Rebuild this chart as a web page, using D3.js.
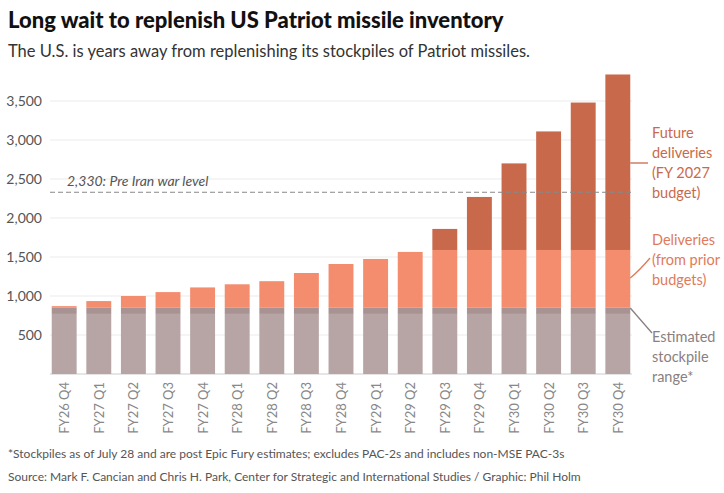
<!DOCTYPE html>
<html><head><meta charset="utf-8">
<script src="https://cdn.jsdelivr.net/npm/d3@7"></script>
<style>
body{margin:0;background:#fff;font-family:Lato,"Open Sans",sans-serif}
</style></head><body>
<svg id="c" width="724" height="493"></svg>
<script>
const quarters = ["FY26 Q4","FY27 Q1","FY27 Q2","FY27 Q3","FY27 Q4","FY28 Q1","FY28 Q2","FY28 Q3","FY28 Q4","FY29 Q1","FY29 Q2","FY29 Q3","FY29 Q4","FY30 Q1","FY30 Q2","FY30 Q3","FY30 Q4"];
const stockLow = 770, stockHigh = 850;
const priorTop = [870,935,1000,1050,1110,1150,1190,1295,1410,1475,1565,1590,1590,1590,1590,1590,1590];
const totalTop = [870,935,1000,1050,1110,1150,1190,1295,1410,1475,1565,1860,2270,2700,3110,3480,3840];
const yTicks = [500,1000,1500,2000,2500,3000,3500];
const preWar = 2330;

const svg = d3.select("#c");
const x = d3.scaleBand().domain(quarters).range([50,632]).paddingInner(0.28).paddingOuter(0.05);
const y = d3.scaleLinear().domain([0,3500]).range([374,101]);

svg.append("text").attr("x",8).attr("y",28).attr("font-size",22).attr("font-weight",900).attr("fill","#111")
  .text("Long wait to replenish US Patriot missile inventory");
svg.append("text").attr("x",8).attr("y",57).attr("font-size",16.5).attr("fill","#333")
  .text("The U.S. is years away from replenishing its stockpiles of Patriot missiles.");

const g = svg.append("g");
g.selectAll(".grid").data(yTicks).join("line")
  .attr("x1",50).attr("x2",632).attr("y1",d=>y(d)).attr("y2",d=>y(d)).attr("stroke","#ebebeb");
g.selectAll(".yl").data(yTicks).join("text")
  .attr("x",42).attr("y",d=>y(d)+5).attr("text-anchor","end").attr("font-size",14).attr("fill","#555")
  .text(d3.format(",")) ;
g.append("line").attr("x1",50).attr("x2",632).attr("y1",y(0)).attr("y2",y(0)).attr("stroke","#ccc");

const bars = g.selectAll(".b").data(quarters).join("g");
bars.append("rect").attr("x",d=>x(d)).attr("width",x.bandwidth())
  .attr("y",(d,i)=>y(totalTop[i])).attr("height",(d,i)=>y(priorTop[i])-y(totalTop[i])).attr("fill","#c9694c");
bars.append("rect").attr("x",d=>x(d)).attr("width",x.bandwidth())
  .attr("y",(d,i)=>y(priorTop[i])).attr("height",(d,i)=>Math.max(0,y(stockHigh)-y(priorTop[i]))).attr("fill","#f48c6e");
bars.append("rect").attr("x",d=>x(d)).attr("width",x.bandwidth())
  .attr("y",y(stockHigh)).attr("height",y(stockLow)-y(stockHigh)).attr("fill","#a89292");
bars.append("rect").attr("x",d=>x(d)).attr("width",x.bandwidth())
  .attr("y",y(stockLow)).attr("height",y(0)-y(stockLow)).attr("fill","#b7a5a5");

g.append("line").attr("x1",50).attr("x2",632).attr("y1",y(preWar)).attr("y2",y(preWar))
  .attr("stroke","#888").attr("stroke-dasharray","5,3");
g.append("text").attr("x",67).attr("y",y(preWar)-6).attr("font-size",14).attr("font-style","italic").attr("fill","#555")
  .text(`${d3.format(",")(preWar)}: Pre Iran war level`);

g.selectAll(".xl").data(quarters).join("text")
  .attr("transform",d=>`translate(${x(d)+x.bandwidth()/2+5},382) rotate(-90)`)
  .attr("text-anchor","end").attr("font-size",13).attr("fill","#888").text(d=>d);

const lastX = x(quarters[quarters.length-1])+x.bandwidth();
const labels = [
  {lines:["Future","deliveries","(FY 2027","budget)"], y0:138, col:"#c9694c", path:`M${lastX},163 L648,163`},
  {lines:["Deliveries","(from prior","budgets)"], y0:245, col:"#e07a5a", path:`M${lastX},278 Q640,270 650,258`},
  {lines:["Estimated","stockpile","range*"], y0:342, col:"#8a8080", path:`M${lastX},308 Q645,325 652,333`}
];
labels.forEach(l=>{
  svg.append("path").attr("d",l.path).attr("fill","none").attr("stroke",l.col).attr("stroke-width",1.3);
  l.lines.forEach((t,i)=>svg.append("text").attr("x",652).attr("y",l.y0+i*20).attr("font-size",14.5).attr("fill",l.col).text(t));
});

svg.append("text").attr("x",8).attr("y",458).attr("font-size",12).attr("fill","#555")
  .text("*Stockpiles as of July 28 and are post Epic Fury estimates; excludes PAC-2s and includes non-MSE PAC-3s");
svg.append("text").attr("x",8).attr("y",481).attr("font-size",12).attr("fill","#555")
  .text("Source: Mark F. Cancian and Chris H. Park, Center for Strategic and International Studies / Graphic: Phil Holm");
</script></body></html>
